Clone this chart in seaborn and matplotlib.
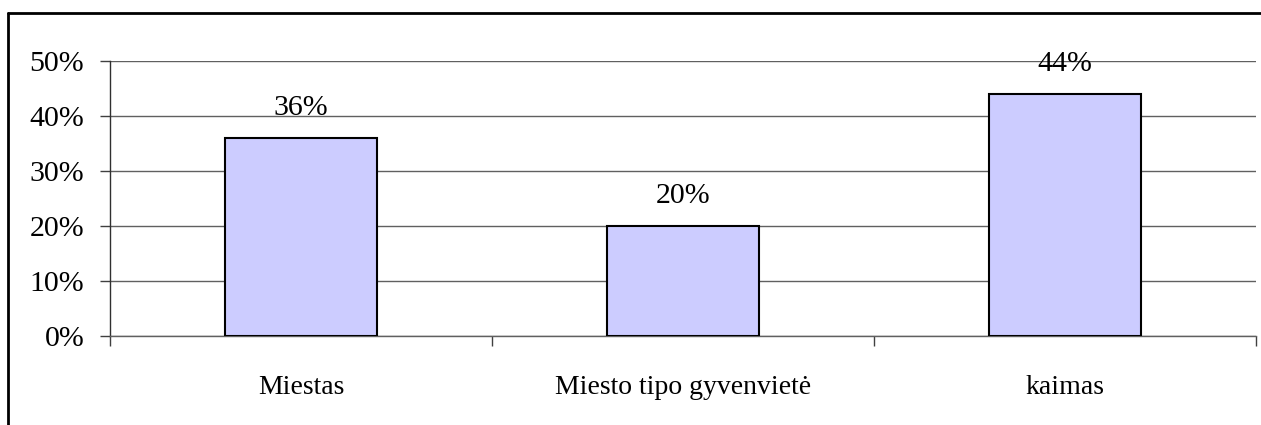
import matplotlib
matplotlib.use("Agg")
import matplotlib.pyplot as plt
import seaborn as sns
import pandas as pd
from matplotlib.lines import Line2D

# data
categories = ["Miestas", "Miesto tipo gyvenvietė", "kaimas"]
shares = [36, 20, 44]
y_ticks = [0, 10, 20, 30, 40, 50]

df = pd.DataFrame({"Vieta": categories, "Dalis": shares})

sns.set_style("white")
plt.rcParams["font.family"] = ["Liberation Serif", "DejaVu Serif"]
plt.rcParams["text.color"] = "black"
plt.rcParams["xtick.color"] = "black"
plt.rcParams["ytick.color"] = "black"

W, H = 1261, 425
fig = plt.figure(figsize=(W / 100, H / 100), dpi=100)

# plot area in pixel coords of the reference
left, right, top, bottom = 110, 1256, 61, 336
ax = fig.add_axes([left / W, 1 - bottom / H, (right - left) / W, (bottom - top) / H])

sns.barplot(data=df, x="Vieta", y="Dalis", color="#CCCCFF", saturation=1,
            width=0.4, edgecolor="black", linewidth=1.5, ax=ax, zorder=3)

ax.set_xlim(-0.5, len(categories) - 0.5)
ax.set_ylim(0, 50)
ax.set_yticks(y_ticks)
ax.set_yticklabels([f"{v}%" for v in y_ticks], fontsize=21.5)
ax.set_xlabel("")
ax.set_ylabel("")

# gridlines
ax.yaxis.grid(True, color="#606060", linewidth=1)
ax.set_axisbelow(True)

# category ticks sit on the boundaries between categories
ax.set_xticks(range(len(categories)))
ax.set_xticklabels(categories, fontsize=20)
ax.tick_params(axis="x", which="major", bottom=True, length=0, pad=28)
ax.set_xticks([i - 0.5 for i in range(len(categories) + 1)], minor=True)
ax.tick_params(axis="x", which="minor", bottom=True, length=7.5, width=1,
               color="#404040", direction="out")
ax.tick_params(axis="y", left=True, length=7.5, width=1, color="#404040",
               labelcolor="black", direction="out", pad=11)

for s in ["top", "right"]:
    ax.spines[s].set_visible(False)
ax.spines["left"].set_color("#303030")
ax.spines["left"].set_linewidth(1)
ax.spines["bottom"].set_color("#606060")
ax.spines["bottom"].set_linewidth(1)

# value labels above the bars
for i, v in enumerate(shares):
    ax.annotate(f"{v}%", (i, v), xytext=(0, 12), textcoords="offset points",
                ha="center", va="bottom", fontsize=21.5, color="black")

# outer frame (left and top edges visible)
fig.add_artist(Line2D([8 / W, 8 / W], [0, 1 - 12.5 / H], color="black", linewidth=2,
                      transform=fig.transFigure))
fig.add_artist(Line2D([8 / W, 1], [1 - 12.5 / H, 1 - 12.5 / H], color="black", linewidth=2,
                      transform=fig.transFigure))

fig.savefig("out.png", dpi=100)
